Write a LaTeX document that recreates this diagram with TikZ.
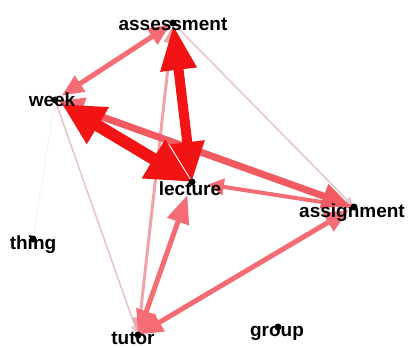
\documentclass[tikz,border=0pt]{standalone}
\usepackage{fontspec}
\setmainfont{Liberation Sans}
\usetikzlibrary{arrows.meta}
\definecolor{redE}{HTML}{F21414}
\definecolor{midE}{HTML}{F25A62}
\definecolor{pinkE}{HTML}{F56C74}
\definecolor{lightE}{HTML}{F0A2AA}
\definecolor{faintE}{HTML}{E6C4C8}
\definecolor{ghostE}{HTML}{F6F2F2}
\begin{document}
\begin{tikzpicture}[x=1pt,y=-1pt,
  lbl/.style={anchor=base,font=\fontsize{19}{21}\selectfont\bfseries,inner sep=0pt,text=black},
  dot/.style={circle,fill=black,inner sep=0pt,minimum size=7pt}]
\fill[white] (0,0) rectangle (411,347);
\useasboundingbox (0,0) rectangle (411,347);
% node centres
\coordinate (as) at (173,23);
\coordinate (wk) at (55,100);
\coordinate (lc) at (192,182);
\coordinate (ag) at (354,207);
\coordinate (th) at (33,239);
\coordinate (tu) at (138,335);
\coordinate (gr) at (278,327);
% faint edges
\draw[ghostE,line width=1pt] (wk) -- (th);
\draw[faintE,line width=1.5pt,-{Triangle[length=10pt,width=8pt]}] (wk) -- (tu);
\draw[faintE,line width=1.5pt,-{Triangle[length=10pt,width=8pt]}] (as) -- (ag);
% light edge
\draw[lightE,line width=3pt,{Triangle[length=16pt,width=14pt]}-{Triangle[length=16pt,width=14pt]},shorten >=4pt,shorten <=1pt] (tu) -- (as);
% pink edges
\draw[pinkE,line width=5pt,{Triangle[length=22pt,width=18pt]}-{Triangle[length=22pt,width=18pt]},shorten >=3pt,shorten <=8pt] (wk) -- (as);
\draw[pinkE,line width=4pt,-{Triangle[length=16pt,width=16pt]},shorten >=16pt] (ag) -- (lc);
\draw[pinkE,line width=5pt,{Triangle[length=24pt,width=20pt]}-{Triangle[length=28pt,width=22pt]},shorten >=14pt,shorten <=1pt] (tu) -- (lc);
\draw[pinkE,line width=5pt,{Triangle[length=24pt,width=20pt]}-{Triangle[length=24pt,width=20pt]},shorten >=6pt,shorten <=1pt] (tu) -- (ag);
% medium edge week-assignment
\draw[midE,line width=7pt,{Triangle[length=26pt,width=24pt,color=pinkE]}-{Triangle[length=28pt,width=24pt]},shorten >=4pt,shorten <=3pt] (wk) -- (ag);
% red edges
\draw[redE,line width=10pt,{Triangle[length=40pt,width=32pt]}-{Triangle[length=45pt,width=34pt]},shorten >=2pt] (lc) -- (as);
\draw[redE,line width=12pt,{Triangle[length=42pt,width=40pt]}-{Triangle[length=45pt,width=42pt]},shorten <=8pt] (wk) -- (lc);
% dots
\node[dot] (dAs) at (as) {};
\node[dot] (dWk) at (wk) {};
\node[dot] (dLc) at (lc) {};
\node[dot] (dAg) at (ag) {};
\node[dot] (dTh) at (th) {};
\node[dot] (dTu) at (tu) {};
\node[dot] (dGr) at (gr) {};
% labels
\node[lbl] (lAs) at (173,31) {assessment};
\node[lbl] (lWk) at (52,107) {week};
\node[lbl] (lLc) at (190,195) {lecture};
\node[lbl] (lAg) at (352,217) {assignment};
\node[lbl] (lTh) at (33,249) {thing};
\node[lbl,text depth=0pt] (lTu) at (133,344) {tutor};
\node[lbl] (lGr) at (277,336) {group};
\end{tikzpicture}
\end{document}
